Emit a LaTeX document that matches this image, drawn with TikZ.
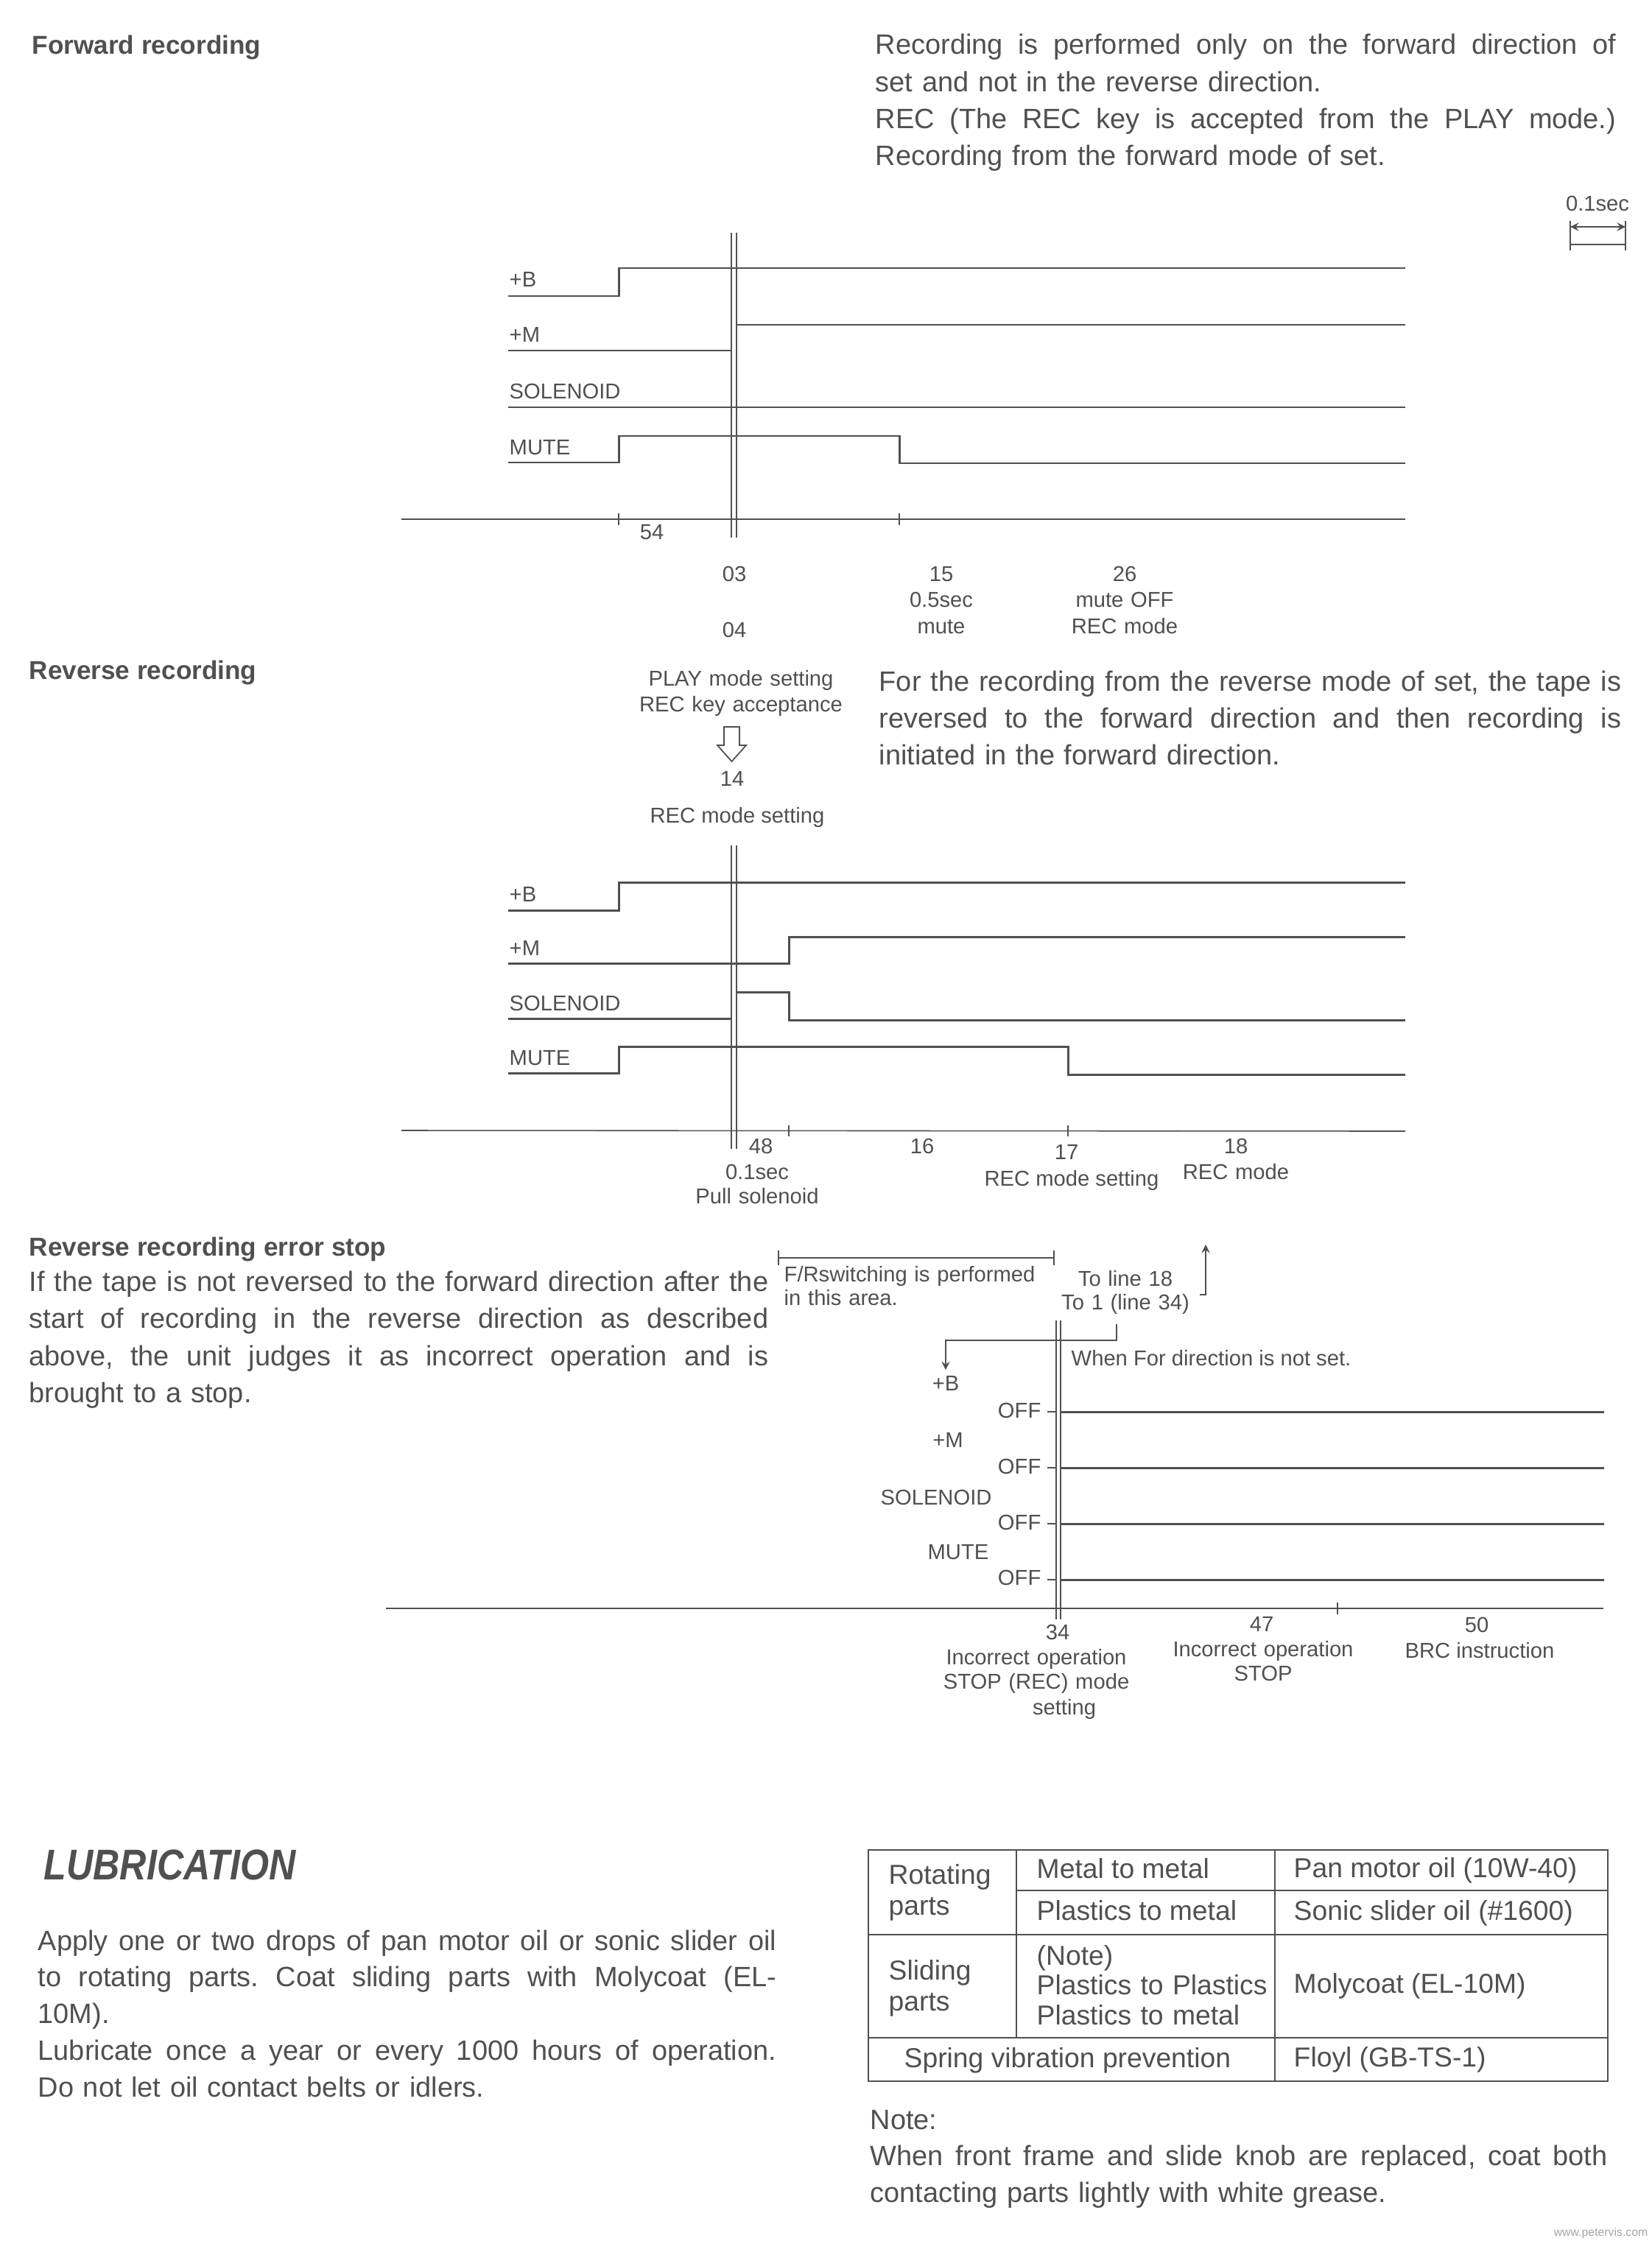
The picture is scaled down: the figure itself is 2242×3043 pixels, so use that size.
\documentclass[tikz,border=0pt]{standalone}
\usepackage{fontspec}
\setmainfont{Liberation Sans}
\usepackage{xcolor}
\usetikzlibrary{arrows, positioning}
\definecolor{ink}{RGB}{80,80,80}
\newcommand{\jline}[1]{{\spaceskip=0.278em plus 3em minus 0.05em\relax\makebox[\linewidth][s]{#1}}}
\tikzstyle{arrow} = [line width=0.45pt,->,>=stealth, draw=ink]
\tikzstyle{sig} = [line width=0.85pt, draw=ink]
\tikzstyle{axisline} = [line width=0.45pt, draw=ink]
\tikzstyle{cursor} = [line width=0.4pt, draw=ink]
\tikzstyle{heading} = [font=\fontsize{10}{12}\selectfont\bfseries, text=ink, inner sep=0pt, anchor=base west]
\tikzstyle{para} = [font=\fontsize{10.8}{14.25}\selectfont, text=ink, inner sep=0pt, anchor=base west]
\tikzstyle{lbl} = [font=\fontsize{8.3}{10.2}\selectfont, text=ink, inner sep=0pt, align=center, anchor=base]
\tikzstyle{stack} = [text width=4.2cm]
\tikzstyle{siglbl} = [lbl, anchor=base west]
\tikzstyle{cell} = [font=\fontsize{10.6}{12}\selectfont, text=ink, inner sep=0pt, anchor=base west, align=left]

\begin{document}
\frenchspacing
\begin{tikzpicture}[x=0.01cm, y=-0.01cm, node distance=0.76cm]
\fill [white] (0,0) rectangle (2242,3043);
\useasboundingbox (0,0) rectangle (2242,3043);

% Forward recording
\node (fwdhead) [heading] at (43,74) {Forward recording};
\node (fwdtext) [para, text width=10.05cm] at (1188,74) {\jline{Recording is performed only on the forward direction of}\\set and not in the reverse direction.\\\jline{REC (The REC key is accepted from the PLAY mode.)}\\Recording from the forward mode of set.};

% Time scale
\node (scale) [lbl] at (2169,287) {0.1sec};
\draw [axisline] (2132,300) -- (2132,340) (2207,300) -- (2207,340) (2132,332) -- (2207,332);
\draw [arrow, <->] (2132,308) -- (2207,308);

% Forward recording waveforms
\draw [sig] (690,402) -- (840,402) -- (840,364) -- (1908,364);
\draw [sig] (690,476) -- (993,476);
\draw [sig] (1000,441) -- (1908,441);
\draw [sig] (690,553) -- (1908,553);
\draw [sig] (690,628) -- (840,628) -- (840,592) -- (1221,592) -- (1221,629) -- (1908,629);
\draw [axisline] (545,705) -- (1908,705);
\draw [axisline] (840,697) -- (840,713) (1221,697) -- (1221,713);
\draw [cursor] (993,316) -- (993,730) (1000,316) -- (1000,730);

\node (f1b) [siglbl] at (691,390) {+B};
\node (f1m) [siglbl] at (691,465) {+M};
\node (f1s) [siglbl] at (691,542) {SOLENOID};
\node (f1u) [siglbl] at (691,617) {MUTE};

\node (f54) [lbl] at (885,732) {54};
\node (f03) [lbl] at (997,789) {03};
\node (f04) [lbl, below of=f03] {04};
\node (f15) [lbl, stack] at (1278,789) {15\\0.5sec\\mute};
\node (f26) [lbl, stack] at (1527,789) {26\\mute OFF\\REC mode};

% Reverse recording
\node (revhead) [heading] at (39,922) {Reverse recording};
\node (playset) [lbl, stack] at (1006,931) {PLAY mode setting\\REC key acceptance};
\draw [ink, line width=0.5pt] (983,987) -- (1004,987) -- (1004,1012) -- (1013,1012) -- (993.5,1034) -- (974,1012) -- (983,1012) -- cycle;
\node (r14) [lbl] at (994,1067) {14};
\node (recset) [lbl] at (1001,1117) {REC mode setting};
\node (revtext) [para, text width=10.07cm] at (1193,938) {\jline{For the recording from the reverse mode of set, the tape is}\\\jline{reversed to the forward direction and then recording is}\\initiated in the forward direction.};

% Reverse recording waveforms
\draw [sig] (690,1236) -- (840,1236) -- (840,1198) -- (1908,1198);
\draw [sig] (690,1308) -- (1071,1308) -- (1071,1272) -- (1908,1272);
\draw [sig] (690,1383) -- (993,1383);
\draw [sig] (1000,1347) -- (1071,1347) -- (1071,1385) -- (1908,1385);
\draw [sig] (690,1457) -- (840,1457) -- (840,1421) -- (1450,1421) -- (1450,1459) -- (1908,1459);
\draw [axisline] (545,1535) -- (1908,1536);
\draw [axisline] (1071,1528) -- (1071,1543) (1450,1528) -- (1450,1543);
\draw [cursor] (993,1148) -- (993,1560) (1000,1148) -- (1000,1560);

\node (r1b) [siglbl] at (691,1224) {+B};
\node (r1m) [siglbl] at (691,1297) {+M};
\node (r1s) [siglbl] at (691,1372) {SOLENOID};
\node (r1u) [siglbl] at (691,1446) {MUTE};

\node (r48) [lbl] at (1033,1566) {48};
\node (r01) [lbl, stack, font=\fontsize{8.3}{9.4}\selectfont] at (1028,1601) {0.1sec\\Pull solenoid};
\node (r16) [lbl] at (1252,1566) {16};
\node (r17) [lbl] at (1448,1574) {17};
\node (r17t) [lbl] at (1455,1610) {REC mode setting};
\node (r18) [lbl, stack] at (1678,1566) {18\\REC mode};

% Reverse recording error stop
\node (errhead) [heading] at (39,1705) {Reverse recording error stop};
\node (errtext) [para, text width=10.03cm, font=\fontsize{10.8}{14.4}\selectfont] at (39,1753) {\jline{If the tape is not reversed to the forward direction after the}\\\jline{start of recording in the reverse direction as described}\\\jline{above, the unit judges it as incorrect operation and is}\\brought to a stop.};

\draw [axisline, |-|] (1056,1708) -- (1432,1708);
\node (frsw) [lbl, stack, anchor=base west, align=left, font=\fontsize{8.3}{9.1}\selectfont] at (1064,1740) {F/Rswitching is performed\\in this area.};
\node (toline) [lbl, stack, font=\fontsize{8.3}{9.3}\selectfont] at (1528,1746) {To line 18\\To 1 (line 34)};
\coordinate (upfoot) at (1629,1758);
\draw [arrow] (upfoot) -- ++(8,0) -- ++(0,-68);

\node (e3b) [lbl] at (1284,1888) {+B};
\node (e3m) [lbl] at (1287,1965) {+M};
\node (e3s) [lbl] at (1271,2043) {SOLENOID};
\node (e3u) [lbl] at (1301,2117) {MUTE};

\coordinate (nofwd) at (1516,1798);
\draw [arrow] (nofwd) -- ++(0,22) -| ([yshift=2pt]e3b.north);
\node (nofwdtxt) [lbl, anchor=base west] at (1454,1854) {When For direction is not set.};

\node (off1) [lbl, anchor=base east] at (1414,1925) {OFF};
\node (off2) [lbl, anchor=base east] at (1414,2001) {OFF};
\node (off3) [lbl, anchor=base east] at (1414,2077) {OFF};
\node (off4) [lbl, anchor=base east] at (1414,2152) {OFF};
\foreach \y in {1917,1993,2069,2145} {
  \draw [axisline] (1422,\y) -- (1434,\y);
  \draw [sig] (1440,\y) -- (2178,\y);
}
\draw [axisline] (524,2184) -- (2177,2184);
\draw [axisline] (1816,2176) -- (1816,2192);
\draw [cursor] (1434,1793) -- (1434,2199) (1440,1793) -- (1440,2199);

\node (e34) [lbl] at (1436,2226) {34};
\node (e34t) [lbl, stack, font=\fontsize{8.3}{9.6}\selectfont] at (1407,2260) {Incorrect operation\\STOP (REC) mode};
\node (e34s) [lbl] at (1445,2328) {setting};
\node (e47) [lbl] at (1713,2215) {47};
\node (e47t) [lbl, stack, font=\fontsize{8.3}{9.4}\selectfont] at (1715,2249) {Incorrect operation\\STOP};
\node (e50) [lbl] at (2005,2216) {50};
\node (e50t) [lbl] at (2009,2251) {BRC instruction};

% Lubrication
\node (lubhead) [heading, font=\fontsize{16.6}{18}\selectfont\bfseries\itshape] at (59,2552) {\scalebox{0.86}[1]{LUBRICATION}};
\node (lubtext) [para, text width=10.02cm, font=\fontsize{10.8}{14.2}\selectfont] at (51,2648) {\jline{Apply one or two drops of pan motor oil or sonic slider oil}\\\jline{to rotating parts. Coat sliding parts with Molycoat (EL-}\\10M).\\\jline{Lubricate once a year or every 1000 hours of operation.}\\Do not let oil contact belts or idlers.};

% Lubrication table
\draw [ink, line width=0.7pt] (1179,2512) rectangle (2183,2826);
\draw [ink, line width=0.7pt] (1380,2512) -- (1380,2767) (1731,2512) -- (1731,2826);
\draw [ink, line width=0.7pt] (1380,2567) -- (2183,2567) (1179,2627) -- (2183,2627) (1179,2767) -- (2183,2767);

\node (rot) [cell, stack] at (1206,2558) {Rotating\\parts};
\node (mm) [cell] at (1407,2550) {Metal to metal};
\node (pm1) [cell] at (1407,2607) {Plastics to metal};
\node (pan) [cell] at (1756,2549) {Pan motor oil (10W-40)};
\node (sonic) [cell] at (1756,2607) {Sonic slider oil (\#1600)};
\node (sld) [cell, stack] at (1206,2688) {Sliding\\parts};
\node (note) [cell, stack, font=\fontsize{10.6}{11.6}\selectfont] at (1407,2668) {(Note)\\Plastics to Plastics\\Plastics to metal};
\node (moly) [cell] at (1756,2706) {Molycoat (EL-10M)};
\node (spring) [cell] at (1227,2807) {Spring vibration prevention};
\node (floyl) [cell] at (1756,2806) {Floyl (GB-TS-1)};

% Note
\node (notehead) [para] at (1181,2891) {Note:};
\node (notetext) [para, text width=10.0cm] at (1181,2940) {\jline{When front frame and slide knob are replaced, coat both}\\contacting parts lightly with white grease.};
\node (wm) [font=\fontsize{4.5}{5}\selectfont, text=gray!70, inner sep=0pt, anchor=base east] at (2238,3036) {www.petervis.com};

\end{tikzpicture}
\end{document}
